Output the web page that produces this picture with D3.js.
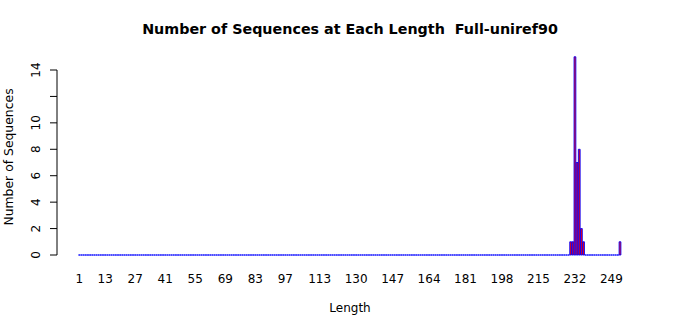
<!DOCTYPE html>
<html>
<head>
<meta charset="utf-8">
<script src="https://cdn.jsdelivr.net/npm/d3@7"></script>
<style>
  body { margin: 0; background: #fff; }
  text { font-family: "DejaVu Sans", sans-serif; fill: #000; white-space: pre; }
</style>
</head>
<body>
<svg width="700" height="315"></svg>
<script>
// sequence lengths 1..253, counts are zero except where listed
var lengths = d3.range(1, 254);
var peakLengths = [230, 231, 232, 233, 234, 235, 236, 253];
var peakCounts = [1, 1, 15, 7, 8, 2, 1, 1];
var xTickLabels = [1, 13, 27, 41, 55, 69, 83, 97, 113, 130, 147, 164, 181, 198, 215, 232, 249];
var yTicks = [0, 2, 4, 6, 8, 10, 12, 14];
var yTickLabels = [0, 2, 4, 6, 8, 10, 14];

var counts = lengths.map(l => {
  var i = peakLengths.indexOf(l);
  return i < 0 ? 0 : peakCounts[i];
});

var svg = d3.select("svg");

var x = d3.scaleLinear().domain([1, 253]).range([79.4, 620]);
var step = x(2) - x(1);
var barW = step / 1.2;
var y = d3.scaleLinear().domain([0, 14]).range([255, 70]);

// bars, drawn as paths so zero heights still show as a border line
svg.append("g")
  .selectAll("path")
  .data(lengths)
  .enter()
  .append("path")
    .attr("d", (d, i) => {
      var x0 = x(d) - barW / 2;
      var y0 = y(counts[i]);
      return "M" + x0 + "," + y(0) + "V" + y0 + "H" + (x0 + barW) + "V" + y(0) + "Z";
    })
    .attr("fill", "red")
    .attr("stroke", "blue")
    .attr("stroke-width", 0.9);

// y axis
var yAxis = svg.append("g");
yAxis.append("line")
  .attr("x1", 57).attr("x2", 57)
  .attr("y1", y(0)).attr("y2", y(14))
  .attr("stroke", "#000");
yAxis.selectAll(".tick")
  .data(yTicks)
  .enter()
  .append("line")
    .attr("x1", 50).attr("x2", 57)
    .attr("y1", d => y(d)).attr("y2", d => y(d))
    .attr("stroke", "#000");
yAxis.selectAll("text")
  .data(yTickLabels)
  .enter()
  .append("text")
    .attr("transform", d => "translate(40," + y(d) + ") rotate(-90)")
    .attr("text-anchor", "middle")
    .attr("font-size", 12)
    .text(d => d);

// x tick labels
svg.append("g")
  .selectAll("text")
  .data(xTickLabels)
  .enter()
  .append("text")
    .attr("x", d => x(d))
    .attr("y", 283)
    .attr("text-anchor", "middle")
    .attr("font-size", 12)
    .text(d => d);

svg.append("text")
  .attr("x", 350).attr("y", 34)
  .attr("text-anchor", "middle")
  .attr("font-size", 14.3)
  .attr("font-weight", "bold")
  .text("Number of Sequences at Each Length  Full-uniref90");

svg.append("text")
  .attr("x", 350).attr("y", 312)
  .attr("text-anchor", "middle")
  .attr("font-size", 12)
  .text("Length");

svg.append("text")
  .attr("transform", "translate(13,157) rotate(-90)")
  .attr("text-anchor", "middle")
  .attr("font-size", 12.4)
  .text("Number of Sequences");
</script>
</body>
</html>
